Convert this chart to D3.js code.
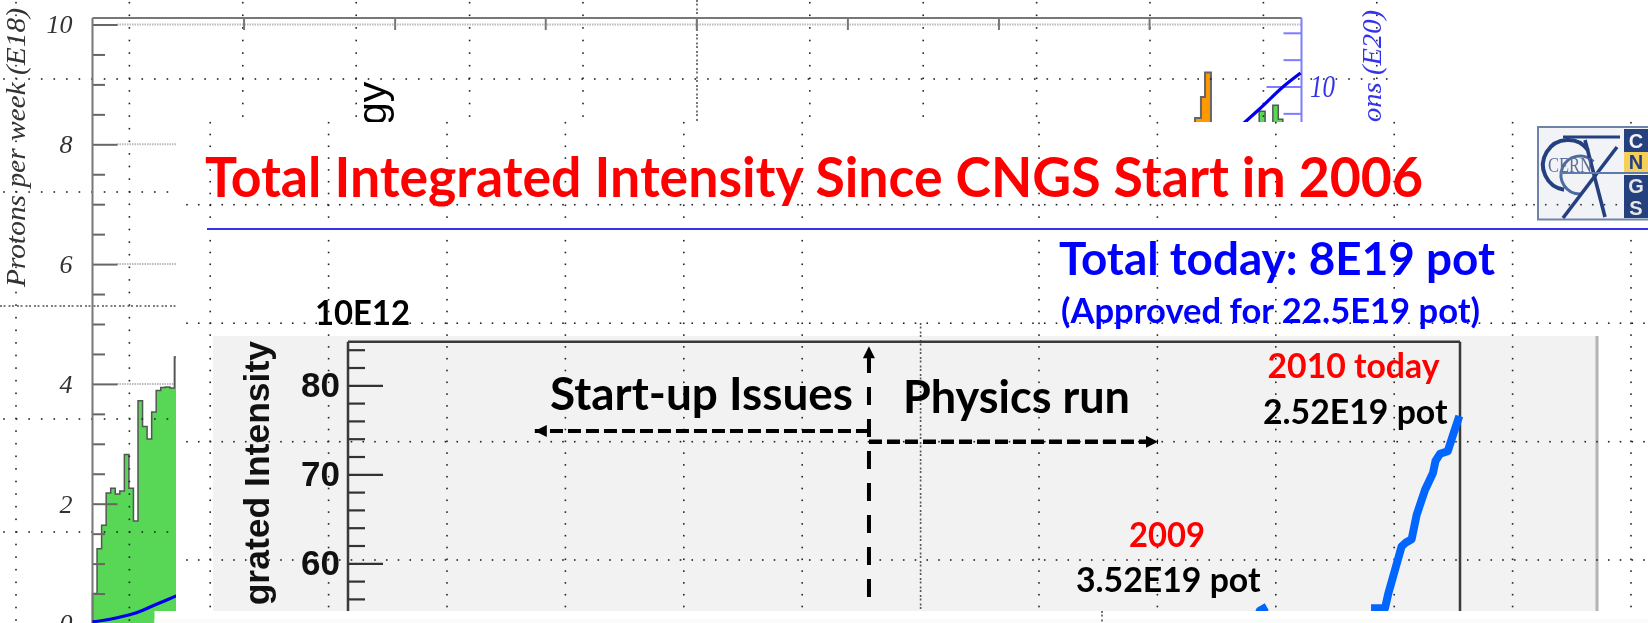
<!DOCTYPE html>
<html><head><meta charset="utf-8">
<script src="https://cdn.jsdelivr.net/npm/d3@7"></script>
<style>html,body{margin:0;padding:0;background:#fff;overflow:hidden}svg{display:block;filter:blur(0.45px)}</style>
</head><body><svg id="c" width="1648" height="623"></svg>
<script>
// ---- data ----
const weeklyStart = [0.5,1.25,1.64,2.18,2.26,2.16,2.21,2.82,2.26,1.71,3.72,3.29,3.08,3.53,3.89,3.94,3.95,3.93,4.45,4.45];
const orangeEdges = [242.3,243.6,244.5,245.8];
const orangeValues = [8.44,8.79,9.2];
const greenLateEdgesA = [256.4,257.7];
const greenLateValuesA = [8.55];
const greenLateEdgesB = [259.4,260.6,261.6];
const greenLateValuesB = [8.65,8.42];
const cumulativeWeeks = [0,3.85,8.9,13.3,18.3,253.3,256.6,261.6,265.5];
const cumulativeValues = [0.03,0.08,0.18,0.33,0.51,9.34,9.59,9.99,10.25];
const weeklyTicksMajor = [0,2,4,6,8,10];
const weeklyTicksMinor = [0.5,1,1.5,2.5,3,3.5,4.5,5,5.5,6.5,7,7.5,8.5,9,9.5];
const gridLineValues = [4,6,8];
const monthTicks = [33.2,66.4,99.5,132.7,165.9,199.1,232.2];
const cumulativeTicks = [9.5,10.5,11];
const run2009X = [81.8,82.0,82.62];
const run2009Y = [54.0,54.67,55.12];
const run2010X = [92.0,92.36,93.25,93.55,94.15,94.75,95.1,95.65,96.1,96.85,97.57,97.8,98.2,98.9,99.37,99.94];
const run2010Y = [54.94,54.94,54.94,56.6,59.25,61.9,62.3,62.7,65.43,68.24,70.15,71.5,72.3,72.6,74.42,76.55];
const intensityMajor = [60,70,80];
const intensityMinor = [54,56,58,62,64,66,68,72,74,76,78,82,84];
const phaseBoundary = 46.85, startupArrowEnd = 16.8, physicsArrowEnd = 72.84;
const startupArrowY = 74.87, physicsArrowY = 73.66, boundaryTop = 84.4, boundaryBottom = 56.2;

// ---- scales ----
const W = 1648, H = 623;
const svg = d3.select("#c");
const xOld = d3.scaleLinear([0,265.7],[92.5,1301.5]);
const yOld = d3.scaleLinear([0,10],[623.5,24.5]);
const yCum = d3.scaleLinear([0,10],[623.5,86.5]);
const xInt = d3.scaleLinear([0,100],[348,1460]);
const yInt = d3.scaleLinear([60,80],[563.3,385.3]);
const SERIF = "'Liberation Serif',serif", SANS = "'Liberation Sans',Arial,sans-serif", CAL = "Lato,'Open Sans',sans-serif";

function dots(g, xs, ys, fill){
  g.append("g").selectAll("rect").data(d3.cross(xs,ys)).join("rect")
    .attr("x",d=>d[0]-0.8).attr("y",d=>d[1]-0.8).attr("width",1.6).attr("height",1.6).attr("fill",fill||"#222");
}
function dense(g,x1,y1,x2,y2){
  g.append("line").attr("x1",x1).attr("y1",y1).attr("x2",x2).attr("y2",y2)
    .attr("stroke","#555").attr("stroke-width",1.6).attr("stroke-dasharray","2 1.5 2 3");
}
function stepPts(edges, vals){
  const p=[[edges[0],0]];
  vals.forEach((v,i)=>{p.push([edges[i],v]);p.push([edges[i+1],v]);});
  p.push([edges[edges.length-1],0]);
  return p;
}
const stepLine = d3.line().x(d=>xOld(d[0])).y(d=>yOld(d[1]));
function txt(g,s,x,y,size,fill,len,opt={}){
  const t=g.append("text").attr("x",x).attr("y",y).text(s)
    .attr("font-family",opt.family||CAL).attr("font-size",size).attr("font-weight",opt.weight||700).attr("fill",fill)
    .attr("font-style",opt.style||"normal");
  if(len) t.attr("textLength",len).attr("lengthAdjust","spacingAndGlyphs");
  if(opt.anchor) t.attr("text-anchor",opt.anchor);
  if(opt.rot) t.attr("transform",`rotate(-90 ${x} ${y})`);
  return t;
}
function styleAxis(g,color,w){
  g.select(".domain").remove();
  g.selectAll("line").attr("stroke",color).attr("stroke-width",w);
}

svg.append("rect").attr("width",W).attr("height",H).attr("fill","#fff");

// ---- back layer: weekly protons plot ----
const old = svg.append("g");
const gridOld = old.append("g");
gridOld.append("line").attr("x1",117).attr("x2",xOld.range()[1]).attr("y1",yOld(10)).attr("y2",yOld(10))
  .attr("stroke","#bbb").attr("stroke-width",2).attr("stroke-dasharray","1.5 1");
gridOld.selectAll("line.g").data(gridLineValues).join("line").attr("class","g")
  .attr("x1",117).attr("x2",176).attr("y1",d=>yOld(d)).attr("y2",d=>yOld(d))
  .attr("stroke","#bbb").attr("stroke-width",2).attr("stroke-dasharray","1.5 1");

// histograms
const edges = d3.range(weeklyStart.length+1);
old.append("path").attr("d",stepLine(stepPts(edges,weeklyStart))).attr("fill","#58d656").attr("stroke","#555").attr("stroke-width",1.5);
old.append("path").attr("d",stepLine(stepPts(orangeEdges,orangeValues))).attr("fill","#ff9900").attr("stroke","#666").attr("stroke-width",2);
old.append("path").attr("d",stepLine(stepPts(greenLateEdgesA,greenLateValuesA))).attr("fill","#58d656").attr("stroke","#555").attr("stroke-width",1.5);
old.append("path").attr("d",stepLine(stepPts(greenLateEdgesB,greenLateValuesB))).attr("fill","#58d656").attr("stroke","#555").attr("stroke-width",1.5);

// grid of the back slide
const g1x = d3.range(13).map(i=>16+113.4*i);
const g1y = d3.range(2.7,623,12.6);
const g1hx = d3.range(4,1392,12.57);
const dotsOld = old.append("g");
dots(dotsOld, g1x.filter(x=>Math.abs(x-696.4)>1), g1y);
dots(dotsOld, g1hx, [79]);
dots(dotsOld, g1hx.filter(x=>x<170), [192,419,532]);
dense(dotsOld,697,0,697,122);
dense(dotsOld,0,306,176,306);

// axes
const axL = old.append("g").attr("transform",`translate(${xOld(0)},0)`);
const axMaj = axL.append("g").call(d3.axisLeft(yOld).tickValues(weeklyTicksMajor).tickSize(-25).tickPadding(20).tickFormat(d3.format("d")));
styleAxis(axMaj,"#666",2);
axMaj.selectAll("text").attr("font-family",SERIF).attr("font-style","italic").attr("font-size",26).attr("fill","#333");
const axMin = axL.append("g").call(d3.axisLeft(yOld).tickValues(weeklyTicksMinor).tickSize(-12.5).tickFormat(""));
styleAxis(axMin,"#666",2);
old.append("line").attr("x1",92.5).attr("x2",92.5).attr("y1",18).attr("y2",H).attr("stroke","#777").attr("stroke-width",2);
const axT = old.append("g").attr("transform","translate(0,18)").call(d3.axisBottom(xOld).tickValues(monthTicks).tickSize(12).tickFormat(""));
styleAxis(axT,"#777",2);
old.append("line").attr("x1",92.5).attr("x2",1301.5).attr("y1",18).attr("y2",18).attr("stroke","#777").attr("stroke-width",2);
const axR = old.append("g").attr("transform","translate(1301.5,0)");
styleAxis(axR.append("g").call(d3.axisLeft(yCum).tickValues(cumulativeTicks).tickSize(18).tickFormat("")),"#7d7dff",2);
styleAxis(axR.append("g").call(d3.axisLeft(yCum).tickValues([10]).tickSize(35).tickFormat("")),"#7d7dff",2);
old.append("line").attr("x1",1301.5).attr("x2",1301.5).attr("y1",18).attr("y2",122).attr("stroke","#7d7dff").attr("stroke-width",2);

// cumulative curve
old.append("path").datum(cumulativeWeeks.map((w,i)=>[w,cumulativeValues[i]]))
  .attr("d",d3.line().x(d=>xOld(d[0])).y(d=>yCum(d[1])).curve(d3.curveMonotoneX))
  .attr("fill","none").attr("stroke","#0000ee").attr("stroke-width",3.2);

// labels of back plot
txt(old,"Protons per week (E18)",25,287,28,"#333",279,{family:SERIF,style:"italic",weight:400,rot:true});
txt(old,"10",1310,yCum(10)+10,31,"#3333ee",25,{family:SERIF,style:"italic",weight:400});
txt(old,"ons (E20)",1381,122,28,"#3333ee",112,{family:SERIF,style:"italic",weight:400,rot:true});
txt(old,"gy",386,125,41,"#000",null,{family:SANS,weight:400,rot:true});

// ---- front slide ----
const front = svg.append("g");
front.append("rect").attr("x",176).attr("y",122).attr("width",W-176).attr("height",H-122).attr("fill","#fff");
front.append("rect").attr("x",213).attr("y",336).attr("width",1385).attr("height",275).attr("fill","#f2f2f2");
front.append("line").attr("x1",1597).attr("x2",1597).attr("y1",336).attr("y2",611).attr("stroke","#b4b4b4").attr("stroke-width",3);

const g2x = d3.range(13).map(i=>210.2+118.4*i);
const g2y = d3.range(122.7,611,11.8);
const g2hx = d3.range(187,W,11.75);
const dotsFront = front.append("g");
dots(dotsFront, g2x.filter(x=>Math.abs(x-920.6)>1), g2y);
dots(dotsFront, g2hx, [204.7,323.2,441.7,560]);
dense(dotsFront,920.6,323,920.6,611);

// rule, title
front.append("line").attr("x1",207).attr("x2",W).attr("y1",229).attr("y2",229).attr("stroke","#3333ee").attr("stroke-width",2);
txt(front,"Total Integrated Intensity Since CNGS Start in 2006",205,197,56,"#ff0000",1218);
txt(front,"Total today: 8E19 pot",1059,275,46,"#0000ff",436);
txt(front,"(Approved for 22.5E19 pot)",1061,323,34,"#0000ff",419);
txt(front,"10E12",315,325,35,"#000",95);

// frame and intensity axis
const frame = front.append("g");
[[348,341.7,1460,341.7],[348,341.7,348,611],[1460,341.7,1460,611]].forEach(l=>{
  frame.append("line").attr("x1",l[0]).attr("y1",l[1]).attr("x2",l[2]).attr("y2",l[3]).attr("stroke","#3a3a3a").attr("stroke-width",2.5);
});
const axI = front.append("g").attr("transform","translate(348,0)");
const axIM = axI.append("g").call(d3.axisLeft(yInt).tickValues(intensityMajor).tickSize(-35).tickPadding(8).tickFormat(d3.format("d")));
styleAxis(axIM,"#333",2.2);
axIM.selectAll("text").attr("font-family",SANS).attr("font-weight",700).attr("font-size",35).attr("fill","#111");
styleAxis(axI.append("g").call(d3.axisLeft(yInt).tickValues(intensityMinor).tickSize(-17).tickFormat("")),"#333",2.2);
txt(front,"grated Intensity",269,341,35.5,"#111",null,{family:SANS,rot:true,anchor:"end"});

// phase arrows
const defs = svg.append("defs");
defs.append("marker").attr("id","ah").attr("viewBox","0 0 10 10").attr("refX",10).attr("refY",5)
  .attr("markerWidth",14).attr("markerHeight",12).attr("markerUnits","userSpaceOnUse").attr("orient","auto")
  .append("path").attr("d","M0,0L10,5L0,10Z").attr("fill","#000");
function arrow(x1,y1,x2,y2,dash,w){
  front.append("line").attr("x1",xInt(x1)).attr("y1",yInt(y1)).attr("x2",xInt(x2)).attr("y2",yInt(y2))
    .attr("stroke","#000").attr("stroke-width",w).attr("stroke-dasharray",dash).attr("marker-end","url(#ah)");
}
arrow(phaseBoundary,boundaryBottom,phaseBoundary,boundaryTop,"18 14",4);
arrow(phaseBoundary,startupArrowY,startupArrowEnd,startupArrowY,"13 5",4);
arrow(phaseBoundary,physicsArrowY,physicsArrowEnd,physicsArrowY,"13 5",4.4);
txt(front,"Start-up Issues",550,410,46,"#000",303);
txt(front,"Physics run",903,412.7,46,"#000",227);

// annotations
txt(front,"2010 today",1267.5,378,34,"#ff0000",172);
txt(front,"2.52E19 pot",1263,424,34,"#000",184.5);
txt(front,"2009",1129,546.7,34,"#ff0000",76);
txt(front,"3.52E19 pot",1076,592.3,34,"#000",184.5);

// intensity curves
const intLine = d3.line().x(d=>xInt(d[0])).y(d=>yInt(d[1]));
[[run2009X,run2009Y],[run2010X,run2010Y]].forEach(([xs,ys])=>{
  front.append("path").datum(xs.map((x,i)=>[x,ys[i]])).attr("d",intLine)
    .attr("fill","none").attr("stroke","#0066ff").attr("stroke-width",8).attr("stroke-linejoin","round");
});

// ---- bottom sheet ----
const sheet = svg.append("g");
sheet.append("rect").attr("x",154.5).attr("y",611).attr("width",W-154.5).attr("height",12).attr("fill","#fff");
sheet.append("rect").attr("x",154.5).attr("y",619).attr("width",W-154.5).attr("height",4).attr("fill","#f8fbf8");
dense(sheet,1102,611,1102,623);

// ---- logo ----
const logo = svg.append("g");
const navy = "#24407f";
logo.append("rect").attr("x",1538).attr("y",127).attr("width",111).attr("height",92.5).attr("fill","#f1f3f6").attr("stroke","#6f83aa").attr("stroke-width",2);
[[129,23,navy,"C","#f2f2f2"],[152,20,"#f5cf5a","N",navy],[175,22,navy,"G","#e6e6e6"],[197,21,navy,"S","#e6e6e6"]].forEach(b=>{
  logo.append("rect").attr("x",1624).attr("y",b[0]).attr("width",24).attr("height",b[1]).attr("fill",b[2]);
  logo.append("text").attr("x",1636).attr("y",b[0]+b[1]/2+7).attr("text-anchor","middle").text(b[3])
    .attr("font-family",SANS).attr("font-weight",700).attr("font-size",20).attr("fill",b[4]);
});
const arc = d3.path();
arc.arc(1568,165,25,Math.PI*0.55,Math.PI*1.8);
const arc2 = d3.path();
arc2.arc(1580,175,19,Math.PI*0.5,Math.PI*1.75);
logo.append("path").attr("d",arc2.toString()).attr("fill","none").attr("stroke","#4e6aa3").attr("stroke-width",3);
logo.append("path").attr("d",arc.toString()).attr("fill","none").attr("stroke",navy).attr("stroke-width",4);
[[1563,137,1620,137,3],[1585,140,1605,217,3.6],[1563,218,1617,147,3.6],[1560,173,1648,173,2]].forEach(l=>{
  logo.append("line").attr("x1",l[0]).attr("y1",l[1]).attr("x2",l[2]).attr("y2",l[3]).attr("stroke",l[4]==2?"#5a7ab0":navy).attr("stroke-width",l[4]);
});
logo.append("text").attr("x",1548).attr("y",172).text("CERN").attr("font-family",SERIF).attr("font-size",20).attr("fill","#5d6f96")
  .attr("textLength",44).attr("lengthAdjust","spacingAndGlyphs");
dots(logo, d3.range(1534,1648,11.75), [204.7], "#333");
</script></body></html>
